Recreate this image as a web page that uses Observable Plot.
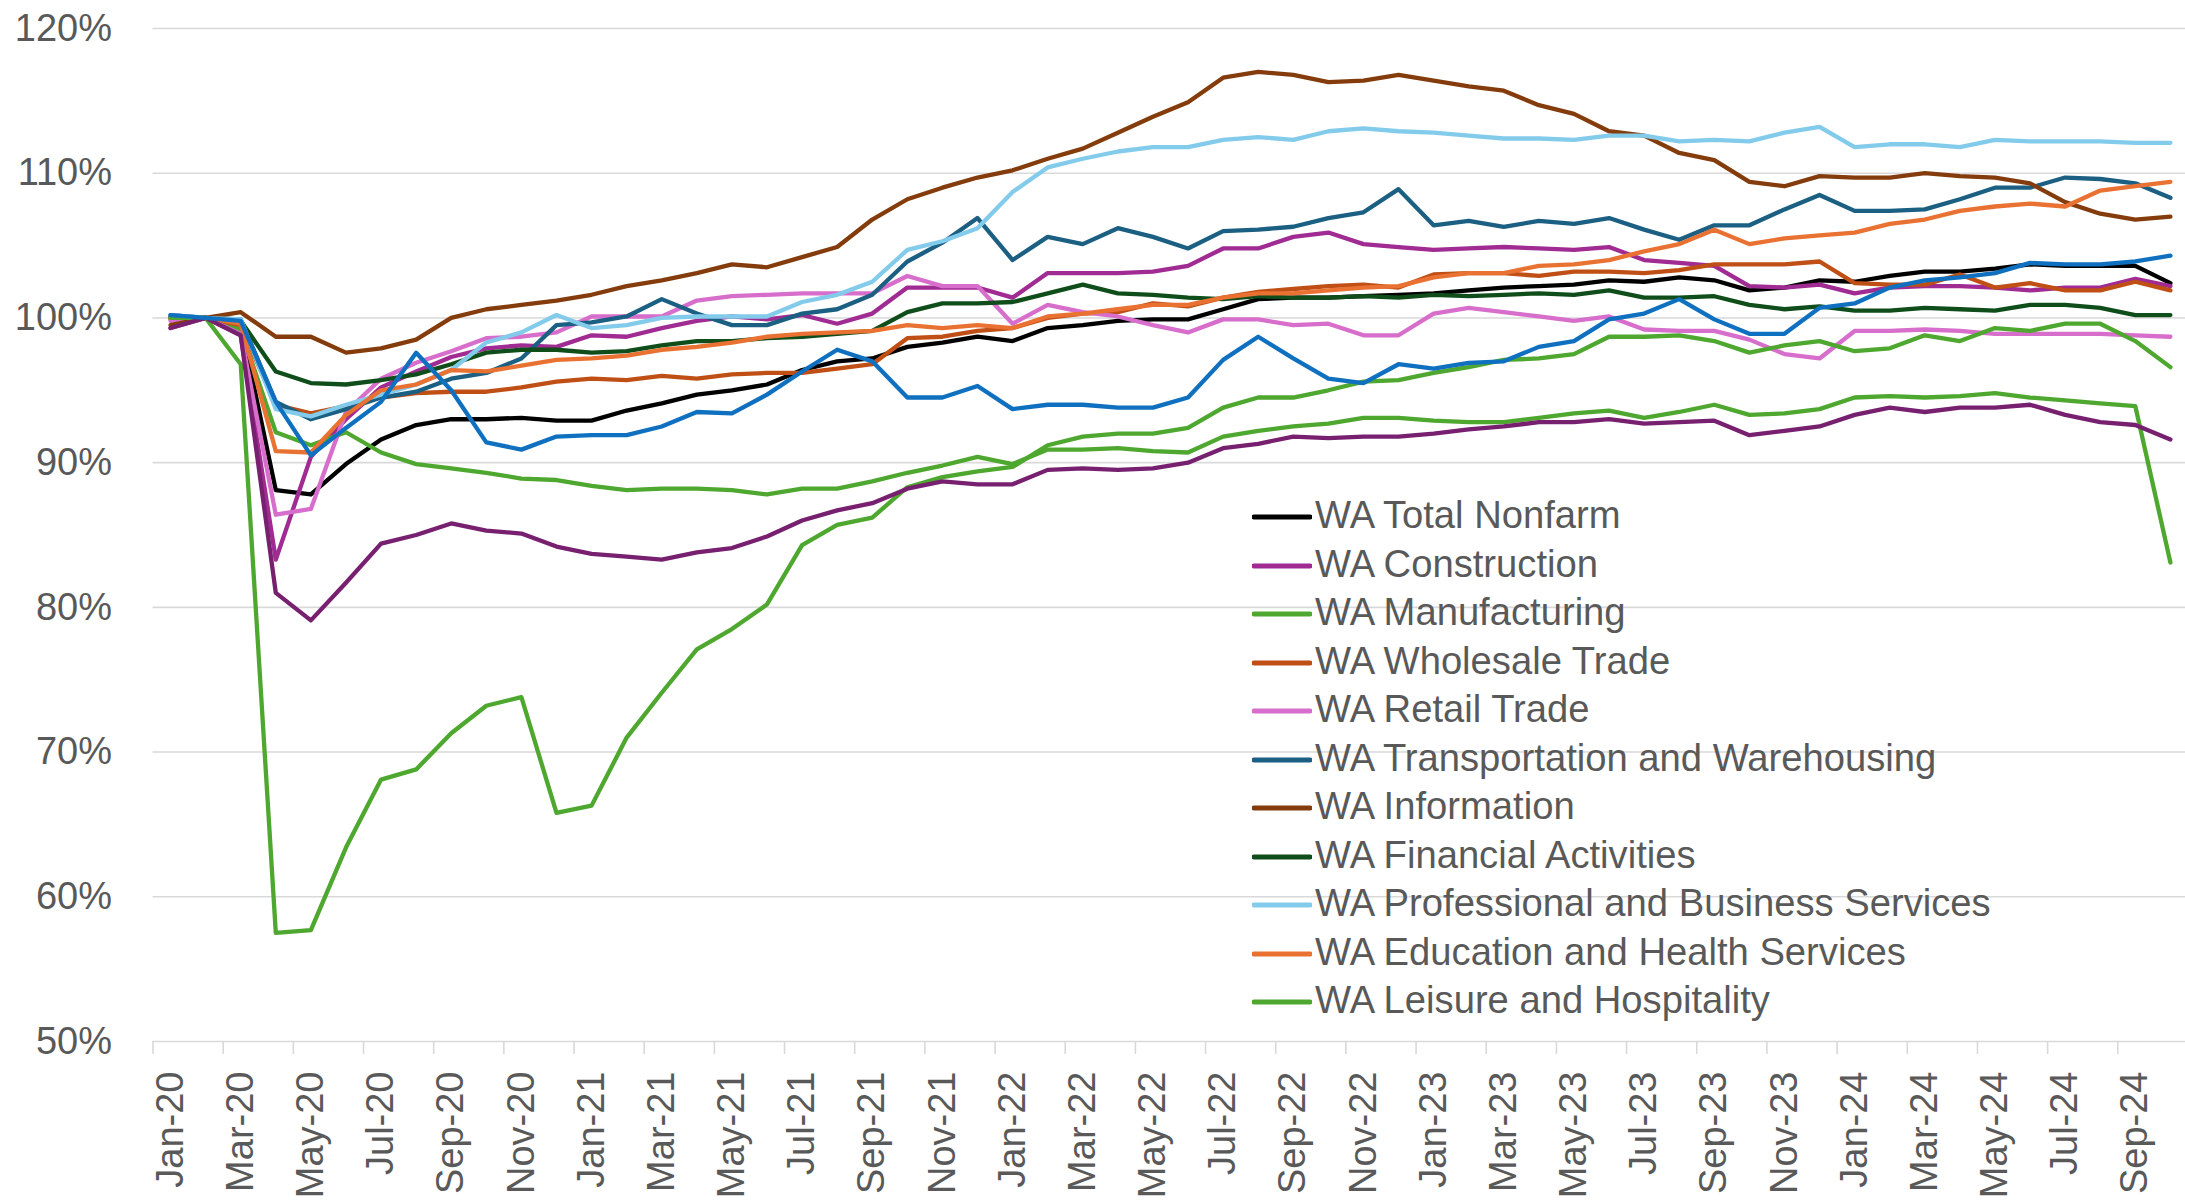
<!DOCTYPE html>
<html>
<head>
<meta charset="utf-8">
<script src="https://cdn.jsdelivr.net/npm/d3@7"></script>
<script src="https://cdn.jsdelivr.net/npm/@observablehq/plot@0.6"></script>
<style>
  html, body { margin: 0; padding: 0; background: #fff; overflow: hidden; }
  #wrap { position: relative; width: 2185px; height: 1204px; }
  #legend { position: absolute; left: 1252px; top: 493px; font-family: "Liberation Sans", Arial, sans-serif; font-size: 38.2px; color: #595959; }
  .row { display: flex; align-items: center; height: 48.5px; white-space: nowrap; }
  .row svg { flex: none; margin-right: 3px; }
  .row span { position: relative; top: -2px; }
</style>
</head>
<body>
<div id="wrap"><div id="chart"></div><div id="legend"></div></div>
<script>
const months = ["Jan-20","Feb-20","Mar-20","Apr-20","May-20","Jun-20","Jul-20","Aug-20","Sep-20","Oct-20","Nov-20","Dec-20",
  "Jan-21","Feb-21","Mar-21","Apr-21","May-21","Jun-21","Jul-21","Aug-21","Sep-21","Oct-21","Nov-21","Dec-21",
  "Jan-22","Feb-22","Mar-22","Apr-22","May-22","Jun-22","Jul-22","Aug-22","Sep-22","Oct-22","Nov-22","Dec-22",
  "Jan-23","Feb-23","Mar-23","Apr-23","May-23","Jun-23","Jul-23","Aug-23","Sep-23","Oct-23","Nov-23","Dec-23",
  "Jan-24","Feb-24","Mar-24","Apr-24","May-24","Jun-24","Jul-24","Aug-24","Sep-24","Oct-24"];

const yTicks = [50, 60, 70, 80, 90, 100, 110, 120];

const seriesNames = ["WA Total Nonfarm","WA Construction","WA Manufacturing","WA Wholesale Trade","WA Retail Trade",
  "WA Transportation and Warehousing","WA Information","WA Financial Activities","WA Professional and Business Services",
  "WA Education and Health Services","WA Leisure and Hospitality","WA Other Services","WA Government"];

const seriesColors = ["#000000","#A02B93","#4EA72E","#C04F15","#D86ECC","#1B5F82","#843C0C","#0F4D1A","#83CBEB","#E97132","#4EA72E","#782070","#0F70C0"];

// number of legend entries visible in the original chart
const legendCount = 11;

const totalNonfarm = [100.0,100,99.6,88.1,87.8,89.9,91.6,92.6,93.0,93.0,93.1,92.9,92.9,93.6,94.1,94.7,95.0,95.4,96.4,97.0,97.2,98.0,98.3,98.7,98.4,99.3,99.5,99.8,99.9,99.9,100.6,101.3,101.4,101.4,101.5,101.6,101.7,101.9,102.1,102.2,102.3,102.6,102.5,102.8,102.6,101.9,102.1,102.6,102.5,102.9,103.2,103.2,103.4,103.7,103.6,103.6,103.6,102.4];
const construction = [99.3,100,98.8,83.3,90.4,93.0,95.2,96.3,97.3,97.9,98.1,98.0,98.8,98.7,99.3,99.8,100.1,99.9,100.2,99.6,100.3,102.1,102.1,102.1,101.4,103.1,103.1,103.1,103.2,103.6,104.8,104.8,105.6,105.9,105.1,104.9,104.7,104.8,104.9,104.8,104.7,104.9,104.0,103.8,103.6,102.2,102.1,102.3,101.7,102.1,102.2,102.2,102.1,101.9,102.1,102.1,102.7,102.2];
const manufacturing = [100,100,99.2,92.1,91.2,92.1,90.7,89.9,89.6,89.3,88.9,88.8,88.4,88.1,88.2,88.2,88.1,87.8,88.2,88.2,88.7,89.3,89.8,90.4,89.9,90.9,90.9,91.0,90.8,90.7,91.8,92.2,92.5,92.7,93.1,93.1,92.9,92.8,92.8,93.1,93.4,93.6,93.1,93.5,94.0,93.3,93.4,93.7,94.5,94.6,94.5,94.6,94.8,94.5,94.3,94.1,93.9,83.1];
const wholesale = [99.9,100,99.5,94.0,93.4,93.9,94.5,94.8,94.9,94.9,95.2,95.6,95.8,95.7,96.0,95.8,96.1,96.2,96.2,96.5,96.8,98.6,98.7,99.1,99.3,100.0,100.3,100.4,101.0,100.8,101.4,101.8,102.0,102.2,102.3,102.1,103.0,103.1,103.1,102.9,103.2,103.2,103.1,103.3,103.7,103.7,103.7,103.9,102.4,102.3,102.3,103.0,102.1,102.4,101.9,101.9,102.5,101.9];
const retail = [99.8,100,98.9,86.4,86.8,93.5,95.8,96.9,97.7,98.6,98.7,99.0,100.1,100.1,100.1,101.2,101.5,101.6,101.7,101.7,101.7,102.9,102.2,102.2,99.6,100.9,100.4,100.1,99.5,99.0,99.9,99.9,99.5,99.6,98.8,98.8,100.3,100.7,100.4,100.1,99.8,100.1,99.2,99.1,99.1,98.5,97.5,97.2,99.1,99.1,99.2,99.1,98.9,98.9,98.9,98.9,98.8,98.7];
const transportation = [100.2,100,99.9,94.2,93.0,93.7,94.5,94.9,95.8,96.2,97.2,99.5,99.7,100.1,101.3,100.3,99.5,99.5,100.3,100.6,101.6,103.9,105.2,106.9,104.0,105.6,105.1,106.2,105.6,104.8,106.0,106.1,106.3,106.9,107.3,108.9,106.4,106.7,106.3,106.7,106.5,106.9,106.1,105.4,106.4,106.4,107.5,108.5,107.4,107.4,107.5,108.2,109.0,109.0,109.7,109.6,109.3,108.3];
const information = [99.5,100,100.4,98.7,98.7,97.6,97.9,98.5,100.0,100.6,100.9,101.2,101.6,102.2,102.6,103.1,103.7,103.5,104.2,104.9,106.8,108.2,109.0,109.7,110.2,111.0,111.7,112.8,113.9,114.9,116.6,117.0,116.8,116.3,116.4,116.8,116.4,116.0,115.7,114.7,114.1,112.9,112.6,111.4,110.9,109.4,109.1,109.8,109.7,109.7,110.0,109.8,109.7,109.3,108.0,107.2,106.8,107.0];
const financial = [100.1,100,99.8,96.3,95.5,95.4,95.7,96.1,96.8,97.6,97.8,97.8,97.6,97.7,98.1,98.4,98.4,98.6,98.7,98.9,99.1,100.4,101.0,101.0,101.1,101.7,102.3,101.7,101.6,101.4,101.3,101.5,101.4,101.4,101.5,101.4,101.6,101.5,101.6,101.7,101.6,101.9,101.4,101.4,101.5,100.9,100.6,100.8,100.5,100.5,100.7,100.6,100.5,100.9,100.9,100.7,100.2,100.2];
const professional = [100.2,100,99.9,93.7,93.2,94.0,94.7,95.4,96.4,98.3,99.0,100.2,99.3,99.5,100.0,100.1,100.1,100.1,101.1,101.6,102.5,104.7,105.3,106.2,108.7,110.4,111.0,111.5,111.8,111.8,112.3,112.5,112.3,112.9,113.1,112.9,112.8,112.6,112.4,112.4,112.3,112.6,112.6,112.2,112.3,112.2,112.8,113.2,111.8,112.0,112.0,111.8,112.3,112.2,112.2,112.2,112.1,112.1];
const education = [100.0,100,99.6,90.8,90.7,93.3,95.0,95.4,96.4,96.3,96.7,97.1,97.2,97.4,97.8,98.0,98.3,98.7,98.9,99.0,99.1,99.5,99.3,99.5,99.3,100.1,100.3,100.6,100.9,100.9,101.4,101.7,101.7,101.9,102.1,102.2,102.8,103.1,103.1,103.6,103.7,104.0,104.6,105.1,106.1,105.1,105.5,105.7,105.9,106.5,106.8,107.4,107.7,107.9,107.7,108.8,109.1,109.4];
const leisure = [100,100,96.8,57.5,57.7,63.4,68.1,68.8,71.3,73.2,73.8,65.8,66.3,71.0,74.1,77.1,78.5,80.2,84.3,85.7,86.2,88.3,89.0,89.4,89.7,91.2,91.8,92.0,92.0,92.4,93.8,94.5,94.5,95.0,95.6,95.7,96.2,96.6,97.1,97.2,97.5,98.7,98.7,98.8,98.4,97.6,98.1,98.4,97.7,97.9,98.8,98.4,99.3,99.1,99.6,99.6,98.4,96.6];
const otherServices = [99.3,100,98.8,81.0,79.1,81.7,84.4,85.0,85.8,85.3,85.1,84.2,83.7,83.5,83.3,83.8,84.1,84.9,86.0,86.7,87.2,88.2,88.7,88.5,88.5,89.5,89.6,89.5,89.6,90.0,91.0,91.3,91.8,91.7,91.8,91.8,92.0,92.3,92.5,92.8,92.8,93.0,92.7,92.8,92.9,91.9,92.2,92.5,93.3,93.8,93.5,93.8,93.8,94.0,93.3,92.8,92.6,91.6];
const government = [100.2,100,99.8,94.2,90.5,92.4,94.2,97.6,95.0,91.4,90.9,91.8,91.9,91.9,92.5,93.5,93.4,94.7,96.3,97.8,97.0,94.5,94.5,95.3,93.7,94.0,94.0,93.8,93.8,94.5,97.1,98.7,97.2,95.8,95.5,96.8,96.5,96.9,97.0,98.0,98.4,99.9,100.3,101.3,99.9,98.9,98.9,100.7,101.0,102.1,102.6,102.8,103.1,103.8,103.7,103.7,103.9,104.3];

const seriesValues = [totalNonfarm, construction, manufacturing, wholesale, retail, transportation, information,
  financial, professional, education, leisure, otherServices, government];

const idx = months.map((m, i) => i);
const labelTicks = idx.filter(i => i % 2 === 0);
const boundaryTicks = labelTicks.map(i => i - 0.5);

const lineMarks = seriesValues.map((vals, s) =>
  Plot.line(idx.map(i => ({i, v: vals[i]})), {
    x: "i", y: "v", stroke: seriesColors[s], strokeWidth: 4.3,
    strokeLinejoin: "round", strokeLinecap: "round"
  })
);

const chart = Plot.plot({
  width: 2185,
  height: 1204,
  marginLeft: 152.5,
  marginRight: 0,
  marginTop: 28,
  marginBottom: 163,
  style: {fontFamily: "'Liberation Sans', Arial, sans-serif", fontSize: "38px", color: "#595959", background: "#fff"},
  x: {type: "linear", domain: [-0.5, 57.43], label: null},
  y: {domain: [50, 120], label: null},
  marks: [
    Plot.gridY(yTicks, {stroke: "#d9d9d9", strokeOpacity: 1, strokeWidth: 1.6}),
    Plot.axisY(yTicks, {tickSize: 0, tickPadding: 41, tickFormat: d => `${d}%`, fontSize: 38, label: null}),
    Plot.axisX(boundaryTicks, {tickSize: 13, stroke: "#d9d9d9", strokeWidth: 1.6, tickFormat: () => "", label: null}),
    Plot.axisX(labelTicks, {tickSize: 0, tickPadding: 30, tickRotate: -90, tickFormat: i => months[i], fontSize: 38, label: null}),
    ...lineMarks
  ]
});
document.getElementById("chart").appendChild(chart);

const legend = document.getElementById("legend");
seriesNames.slice(0, legendCount).forEach((name, s) => {
  const row = document.createElement("div");
  row.className = "row";
  row.innerHTML = `<svg width="60" height="10"><line x1="2" y1="5" x2="58" y2="5" stroke="${seriesColors[s]}" stroke-width="5" stroke-linecap="round"/></svg><span>${name}</span>`;
  legend.appendChild(row);
});
</script>
</body>
</html>
